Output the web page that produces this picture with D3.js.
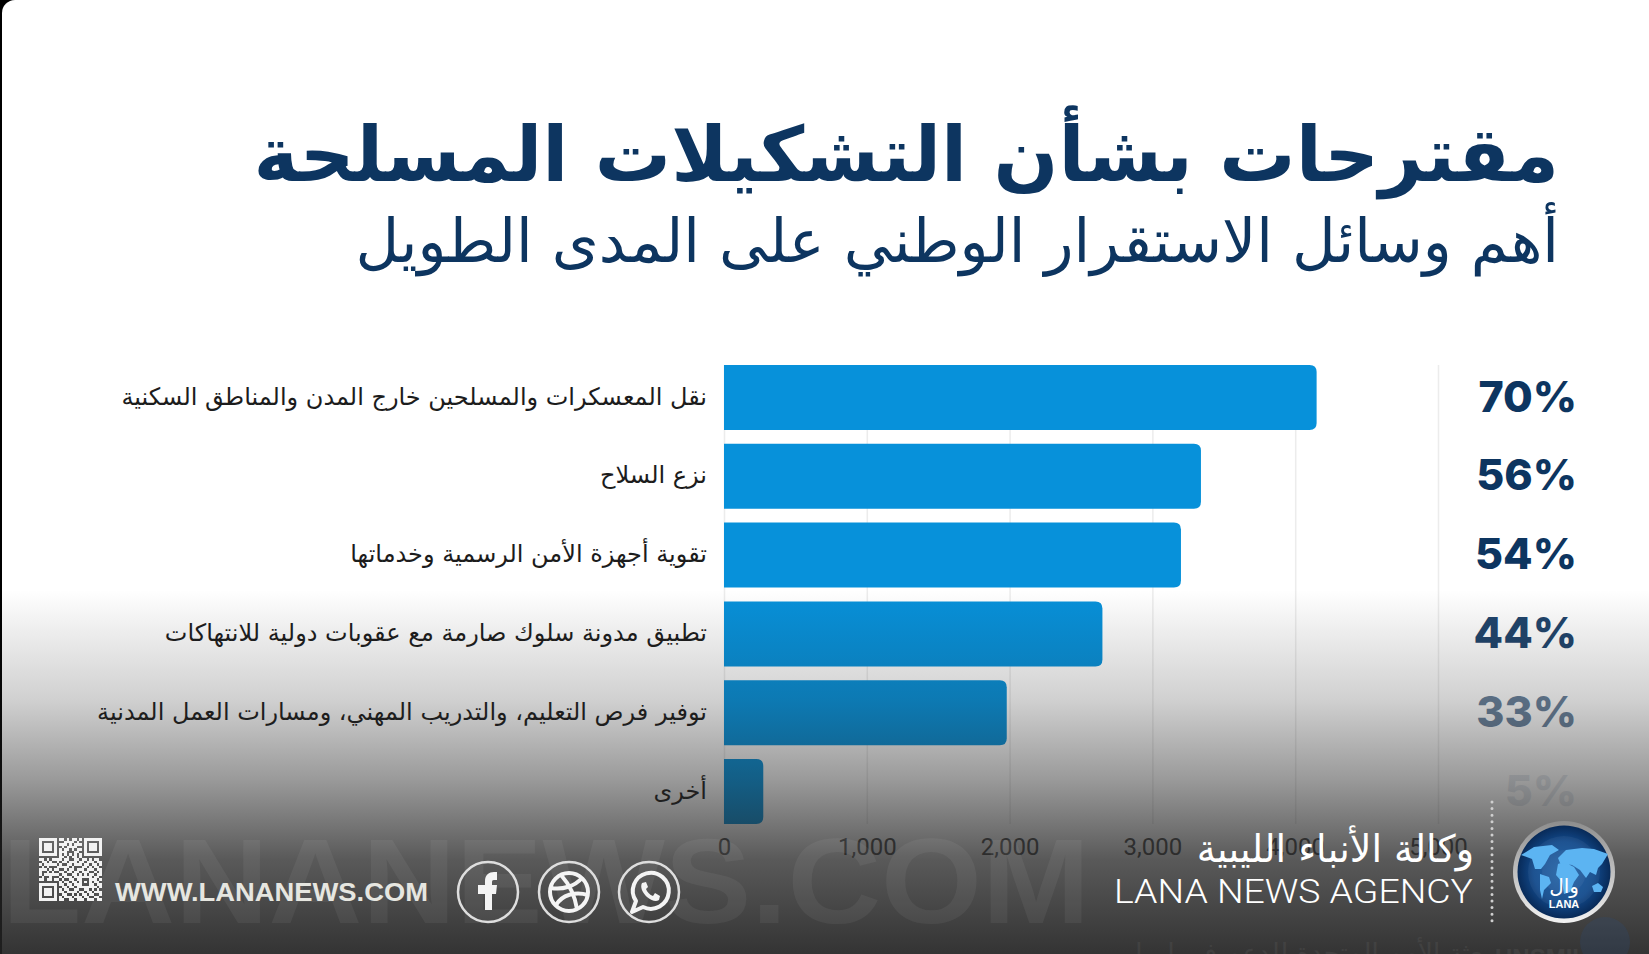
<!DOCTYPE html>
<html lang="ar">
<head>
<meta charset="utf-8">
<script src="https://cdn.jsdelivr.net/npm/d3@7"></script>
<style>
  html, body { margin: 0; padding: 0; background: #000; overflow: hidden; }
  svg { display: block; }
  text { font-family: "DejaVu Sans", sans-serif; }
</style>
</head>
<body>
<svg width="1649" height="954"></svg>
<script>
// Chart values.
const categories = [
  'نقل المعسكرات والمسلحين خارج المدن والمناطق السكنية',
  'نزع السلاح',
  'تقوية أجهزة الأمن الرسمية وخدماتها',
  'تطبيق مدونة سلوك صارمة مع عقوبات دولية للانتهاكات',
  'توفير فرص التعليم، والتدريب المهني، ومسارات العمل المدنية',
  'أخرى'
];
const counts = [4150, 3340, 3200, 2650, 1980, 275];
const percents = ['70%', '56%', '54%', '44%', '33%', '5%'];
const xTicks = [0, 1000, 2000, 3000, 4000, 5000];

// The percent labels fade out towards the bottom of the frame.
const percentFade = [1, 1, 1, 0.92, 0.62, 0.1];

// QR code modules.
const qrRows = [
  '1111111011010110101111111',
  '1000001000111101001000001',
  '1011101011101011101011101',
  '1011101001011110001011101',
  '1011101010110101101011101',
  '1000001011100011001000001',
  '1111111010101010101111111',
  '0000000011010110100000000',
  '1101011110110011011010110',
  '0110100101101110110111011',
  '1011111010011011101101101',
  '0101000111110100011010110',
  '1110101100101101110111011',
  '1001010011011011011100101',
  '1011111101100110101011011',
  '0100100010111011111110110',
  '1101101101001101100011101',
  '0000000010110110101010110',
  '1111111011011011100011011',
  '1000001001101101111111101',
  '1011101010110011001101010',
  '1011101011011110110110111',
  '1011101001100101011011001',
  '1000001010111011101100110',
  '1111111011001101110111011'
];

const svg = d3.select('svg');
const defs = svg.append('defs');

// Dimensions.
const plot = { left: 724, right: 1438, top: 365, bottom: 824 };
const navy = '#0d3560';

// Scales.
const xScale = d3.scaleLinear().domain([0, 5000]).range([plot.left, plot.right]);
const yScale = d3.scaleBand().domain(categories).range([plot.top, plot.bottom]).paddingInner(0.176);

// Page card.
svg.append('rect')
  .attr('x', 2).attr('y', 0)
  .attr('width', 1660).attr('height', 1000)
  .attr('rx', 13)
  .attr('fill', '#fff');

// Title block. With direction rtl, anchor start is the right-hand end.
svg.append('text')
  .text('مقترحات بشأن التشكيلات المسلحة')
  .attr('x', 1559).attr('y', 181)
  .attr('text-anchor', 'start').attr('direction', 'rtl')
  .attr('font-size', 76).attr('font-weight', 700)
  .attr('fill', navy);

svg.append('text')
  .text('أهم وسائل الاستقرار الوطني على المدى الطويل')
  .attr('x', 1559).attr('y', 262)
  .attr('text-anchor', 'start').attr('direction', 'rtl')
  .attr('font-size', 60)
  .attr('fill', navy);

// Axis and grid.
const axis = svg.append('g')
  .attr('transform', `translate(0,${plot.bottom})`)
  .call(d3.axisBottom(xScale)
    .tickValues(xTicks)
    .tickSize(-(plot.bottom - plot.top))
    .tickPadding(14)
    .tickFormat(d3.format(',')));
axis.select('.domain').remove();
axis.selectAll('line').attr('stroke', '#ececec').attr('stroke-width', 1.5);
axis.selectAll('text')
  .style('font-family', 'Roboto')
  .attr('font-size', 24)
  .attr('fill', '#4a4a4a');

// Bars, rounded on the right only.
const barPath = (d, i) => {
  const x0 = xScale(0), x1 = xScale(d), y0 = yScale(categories[i]), h = yScale.bandwidth(), r = 7;
  return `M${x0},${y0}H${x1 - r}Q${x1},${y0} ${x1},${y0 + r}V${y0 + h - r}Q${x1},${y0 + h} ${x1 - r},${y0 + h}H${x0}Z`;
};
svg.append('g').selectAll('path')
  .data(counts)
  .enter()
  .append('path')
  .attr('d', barPath)
  .attr('fill', '#0791da');

// Category labels.
svg.append('g').selectAll('text')
  .data(categories)
  .enter()
  .append('text')
  .text(d => d)
  .attr('x', 707)
  .attr('y', d => yScale(d) + yScale.bandwidth() / 2)
  .attr('dy', '0.3em')
  .attr('text-anchor', 'start').attr('direction', 'rtl')
  .attr('font-size', 24)
  .attr('fill', '#1c1c1c');

// Percent labels.
svg.append('g').selectAll('text')
  .data(percents)
  .enter()
  .append('text')
  .text(d => d)
  .attr('x', 1577)
  .attr('y', (d, i) => yScale(categories[i]) + yScale.bandwidth() / 2)
  .attr('dy', '0.33em')
  .attr('text-anchor', 'end')
  .style('font-family', 'Inter')
  .attr('font-size', 43).attr('font-weight', 800)
  .attr('fill', navy)
  .attr('opacity', (d, i) => percentFade[i]);

// Dark fade over the lower part of the frame.
const fade = defs.append('linearGradient')
  .attr('id', 'fade')
  .attr('gradientUnits', 'userSpaceOnUse')
  .attr('x1', 0).attr('x2', 0).attr('y1', 590).attr('y2', 954);
[[0, 0], [0.3, 0.21], [0.52, 0.457], [0.74, 0.75], [1, 0.92]].forEach(s =>
  fade.append('stop').attr('offset', s[0]).attr('stop-color', '#222').attr('stop-opacity', s[1]));
svg.append('rect')
  .attr('x', 0).attr('y', 590)
  .attr('width', 1649).attr('height', 364)
  .attr('fill', 'url(#fade)');

// Footer.
svg.append('text')
  .text('LANANEWS.COM')
  .attr('x', 2).attr('y', 923)
  .attr('textLength', 1088).attr('lengthAdjust', 'spacingAndGlyphs')
  .style('font-family', 'Liberation Sans')
  .attr('font-size', 120).attr('font-weight', 700)
  .attr('fill', '#fff').attr('opacity', 0.05);

// Faint strip left over at the very bottom.
svg.append('text')
  .text('بعثة الأمم المتحدة للدعم في ليبيا')
  .attr('x', 1490).attr('y', 962)
  .attr('text-anchor', 'start').attr('direction', 'rtl')
  .attr('font-size', 26)
  .attr('fill', '#fff').attr('opacity', 0.05);
svg.append('text')
  .text('UNSMIL')
  .attr('x', 1495).attr('y', 966)
  .style('font-family', 'Liberation Sans')
  .attr('font-size', 24).attr('font-weight', 700)
  .attr('fill', '#fff').attr('opacity', 0.05);
svg.append('circle')
  .attr('cx', 1605).attr('cy', 942).attr('r', 25)
  .attr('fill', '#2a4a78').attr('opacity', 0.25);

// QR code.
const qrScale = d3.scaleBand().domain(d3.range(25)).range([39, 102]);
const qrY = d3.scaleBand().domain(d3.range(25)).range([838, 901]);
const qr = svg.append('g').attr('shape-rendering', 'crispEdges');
qrRows.forEach((row, r) => {
  row.split('').forEach((bit, c) => {
    if (bit === '1') {
      qr.append('rect')
        .attr('x', qrScale(c)).attr('y', qrY(r))
        .attr('width', qrScale.bandwidth()).attr('height', qrY.bandwidth())
        .attr('fill', '#f2f2f2');
    }
  });
});

svg.append('text')
  .text('WWW.LANANEWS.COM')
  .attr('x', 115).attr('y', 901)
  .attr('textLength', 313).attr('lengthAdjust', 'spacingAndGlyphs')
  .style('font-family', 'Liberation Sans')
  .attr('font-size', 25).attr('font-weight', 700)
  .attr('fill', '#e6e6e0');

// Social icons.
const iconX = [488, 569, 649];
const icons = svg.append('g').selectAll('g')
  .data(iconX)
  .enter()
  .append('g')
  .attr('transform', d => `translate(${d},892)`);
icons.append('circle')
  .attr('r', 30)
  .attr('fill', 'none')
  .attr('stroke', '#dedede').attr('stroke-width', 2.5);

// Facebook.
d3.select(icons.nodes()[0]).append('path')
  .attr('d', 'M-3,18V2H-10V-7H-3V-11C-3,-17 1,-20 6,-20H9V-12H6C4,-12 4,-11 4,-9V-7H9L8,2H4V18Z')
  .attr('fill', '#f4f4f4');

// Dribbble.
const dribbble = d3.select(icons.nodes()[1]).append('g')
  .attr('fill', 'none').attr('stroke', '#f4f4f4').attr('stroke-width', 4);
dribbble.append('circle').attr('r', 19);
dribbble.append('path').attr('d', 'M-8,-17C0,-8 6,4 8,17');
dribbble.append('path').attr('d', 'M-18,-4C-6,-2 6,-6 13,-14');
dribbble.append('path').attr('d', 'M-13,13C-7,3 6,-1 19,3');

// WhatsApp.
const whatsapp = d3.select(icons.nodes()[2]);
whatsapp.append('path')
  .attr('d', 'M-17,20L-13,9A18,18 0 1 1 -6,15Z')
  .attr('fill', 'none').attr('stroke', '#f4f4f4').attr('stroke-width', 4).attr('stroke-linejoin', 'round');
whatsapp.append('path')
  .attr('d', 'M-7,-9C-9,-5 -7,0 -2,5C3,9 7,10 10,8L11,4L6,1L4,4C1,3 -2,0 -3,-3L-1,-5L-3,-10Z')
  .attr('fill', '#f4f4f4');

// Agency name.
svg.append('text')
  .text('وكالة الأنباء الليبية')
  .attr('x', 1474).attr('y', 862)
  .attr('text-anchor', 'start').attr('direction', 'rtl')
  .attr('font-size', 38)
  .attr('fill', '#fff');
svg.append('text')
  .text('LANA NEWS AGENCY')
  .attr('x', 1114).attr('y', 903)
  .attr('textLength', 359).attr('lengthAdjust', 'spacingAndGlyphs')
  .style('font-family', 'Roboto')
  .attr('font-size', 33).attr('font-weight', 300)
  .attr('fill', '#fff');

// Dotted divider.
svg.append('line')
  .attr('x1', 1492).attr('x2', 1492)
  .attr('y1', 802).attr('y2', 927)
  .attr('stroke', '#cfcfcf').attr('stroke-width', 3)
  .attr('stroke-linecap', 'round').attr('stroke-dasharray', '0 6.6');

// Logo.
const ringGrad = defs.append('linearGradient').attr('id', 'ring').attr('x1', 0).attr('x2', 0).attr('y1', 0).attr('y2', 1);
ringGrad.append('stop').attr('offset', 0).attr('stop-color', '#8d8d8d');
ringGrad.append('stop').attr('offset', 0.6).attr('stop-color', '#c9c9c9');
ringGrad.append('stop').attr('offset', 1).attr('stop-color', '#f2f2f2');
const globeGrad = defs.append('radialGradient').attr('id', 'globe');
globeGrad.append('stop').attr('offset', 0).attr('stop-color', '#1c5fa6');
globeGrad.append('stop').attr('offset', 0.65).attr('stop-color', '#124a8c');
globeGrad.append('stop').attr('offset', 1).attr('stop-color', '#082a58');

const logo = svg.append('g').attr('transform', 'translate(1564,872)');
logo.append('circle').attr('r', 51).attr('fill', 'url(#ring)');
logo.append('circle').attr('r', 46.5).attr('fill', 'url(#globe)');
logo.append('circle').attr('r', 36).attr('fill', '#fff').attr('opacity', 0.05);
logo.append('circle').attr('r', 22).attr('fill', '#fff').attr('opacity', 0.05);
logo.append('g').attr('fill', '#5cb4f2').selectAll('path')
  .data([
    'M-43,-17L-30,-25L-12,-27L-5,-22L-14,-17L-19,-8L-23,-3L-29,-3L-32,-13Z', // north america
    'M-24,2L-15,5L-13,11L-20,18L-22,27L-24,18Z', // south america
    'M-6,-8L2,-11L6,-7L10,-5L15,3L10,10L6,20L0,22L-2,10L-8,3Z', // africa
    'M-6,-14L2,-22L18,-24L30,-23L44,-18L38,-8L34,-4L32,3L26,0L22,6L16,-2L8,-7L-4,-9Z', // eurasia
    'M28,14L34,11L39,15L37,20L30,20Z' // australia
  ])
  .enter()
  .append('path')
  .attr('d', d => d);
logo.append('text')
  .text('وال')
  .attr('x', 0).attr('y', 21)
  .attr('text-anchor', 'middle').attr('direction', 'rtl')
  .attr('font-size', 20)
  .attr('fill', '#fff');
logo.append('text')
  .text('LANA')
  .attr('x', 0).attr('y', 36)
  .attr('text-anchor', 'middle')
  .style('font-family', 'Liberation Sans')
  .attr('font-size', 11).attr('font-weight', 700)
  .attr('fill', '#fff');
</script>
</body>
</html>
